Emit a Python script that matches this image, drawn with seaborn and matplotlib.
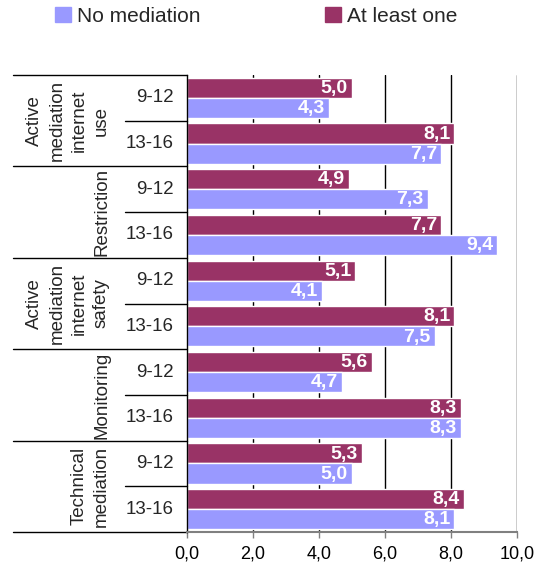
import pandas as pd
import seaborn as sns
import matplotlib.pyplot as plt
from matplotlib.patches import Patch
from matplotlib.lines import Line2D

# --- data ---
groups = ["Active\nmediation\ninternet\nuse", "Restriction",
          "Active\nmediation\ninternet\nsafety", "Monitoring",
          "Technical\nmediation"]
ages = ["9-12", "13-16"]
at_least_one = [5.0, 8.1, 4.9, 7.7, 5.1, 8.1, 5.6, 8.3, 5.3, 8.4]
no_mediation = [4.3, 7.7, 7.3, 9.4, 4.1, 7.5, 4.7, 8.3, 5.0, 8.1]
x_ticks = [0, 2, 4, 6, 8, 10]
x_tick_labels = ["0,0", "2,0", "4,0", "6,0", "8,0", "10,0"]

series_names = ["At least one", "No mediation"]
colors = {"At least one": "#993366", "No mediation": "#9999FF"}

rows = [f"{g}|{a}" for g in groups for a in ages]
df = pd.DataFrame({
    "row": rows * 2,
    "value": at_least_one + no_mediation,
    "series": ["At least one"] * len(rows) + ["No mediation"] * len(rows),
})

sns.set_style("white")
plt.rcParams["font.family"] = ["Liberation Sans", "DejaVu Sans"]

fig = plt.figure(figsize=(5.43, 5.69), dpi=100)
ax = fig.add_axes([187 / 543, 1 - 532 / 569, 330 / 543, 457 / 569])

sns.barplot(data=df, y="row", x="value", hue="series", order=rows,
            hue_order=series_names, palette=colors, orient="h",
            width=0.88, gap=0, saturation=1, ax=ax, legend=False)

ax.set_xlim(0, 10)
ax.set_ylim(len(rows) - 0.5, -0.5)
ax.set_xticks(x_ticks)
ax.set_xticklabels(x_tick_labels, fontsize=13)
ax.set_yticks([])
ax.set_xlabel("")
ax.set_ylabel("")

# vertical gridlines behind the bars
ax.set_axisbelow(True)
for xv in x_ticks[1:]:
    ax.axvline(xv, color="black", lw=1, zorder=0)

for side in ["top", "right"]:
    ax.spines[side].set_visible(False)
ax.spines["left"].set_color("black")
ax.spines["left"].set_linewidth(1)
ax.spines["bottom"].set_color("#808080")
ax.spines["bottom"].set_linewidth(1.5)
ax.tick_params(axis="x", bottom=True, length=4, width=1, color="#808080",
               pad=6, labelcolor="black")

# value labels inside bar ends
for container in ax.containers:
    for bar in container:
        w = bar.get_width()
        ax.annotate(f"{w:.1f}".replace(".", ","),
                    (w, bar.get_y() + bar.get_height() / 2),
                    xytext=(-3, -0.5), textcoords="offset points",
                    ha="right", va="center", color="white",
                    fontsize=14, fontweight="bold")

# category table on the left
trans = ax.get_yaxis_transform()
x_out = (13 - 187) / 330
x_sub = (125 - 187) / 330
for i, g in enumerate(groups):
    top = 2 * i - 0.5
    ax.add_line(Line2D([x_out, 0], [top, top], transform=trans,
                       color="black", lw=1, clip_on=False))
    ax.add_line(Line2D([x_sub, 0], [top + 1, top + 1],
                       transform=trans, color="black", lw=1, clip_on=False))
    ax.text((110 - 187) / 330, 2 * i + 0.5, g, transform=trans,
            rotation=90, ha="right", va="center", multialignment="center",
            fontsize=13.5, linespacing=1.4)
    for j, a in enumerate(ages):
        ax.text((174 - 187) / 330, 2 * i + j, a, transform=trans,
                ha="right", va="center", fontsize=13.5)
ax.add_line(Line2D([x_out, 0], [len(rows) - 0.5] * 2, transform=trans,
                   color="black", lw=1, clip_on=False))

handles = [Patch(color=colors["No mediation"]),
           Patch(color=colors["At least one"])]
fig.legend(handles, ["No mediation", "At least one"], ncol=2,
           loc="upper left", bbox_to_anchor=(55 / 543, 1 - 7 / 569),
           frameon=False, fontsize=15, handlelength=0.75, handleheight=0.75,
           handletextpad=0.3, columnspacing=6.0, borderpad=0,
           borderaxespad=0)

fig.savefig("out.png", dpi=100)
